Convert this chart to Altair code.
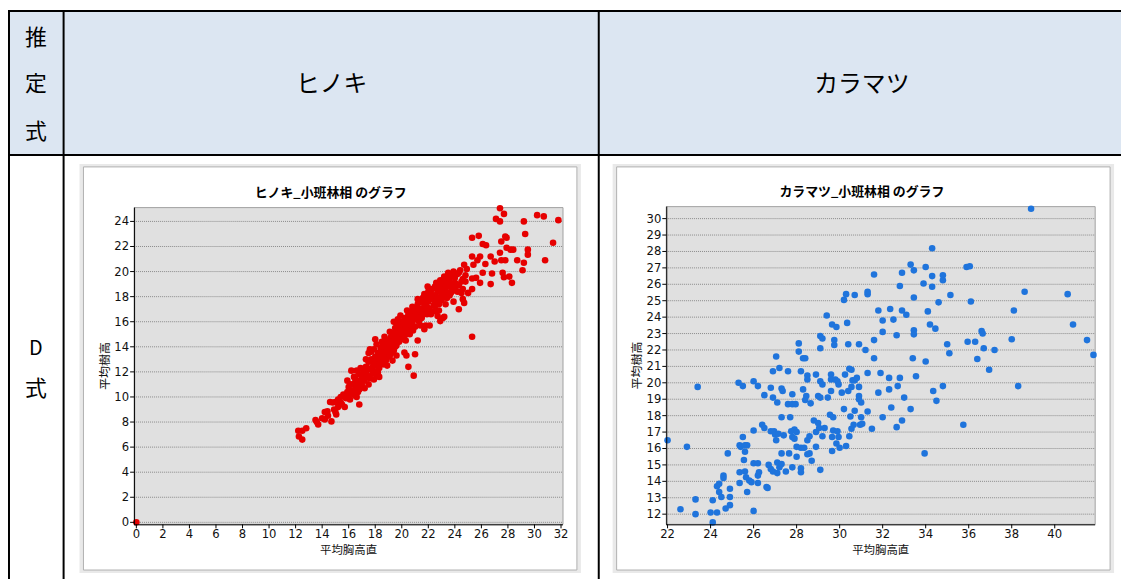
import altair as alt
import pandas as pd

# ---------------- data ----------------
header_species = ["ヒノキ", "カラマツ"]
row_label = ["推", "定", "式"]
body_label = ["D", "式"]
chart_titles = ["ヒノキ_小班林相 のグラフ", "カラマツ_小班林相 のグラフ"]
x_title = "平均胸高直"
y_title = "平均樹高"

hinoki_xticks = [0, 2, 4, 6, 8, 10, 12, 14, 16, 18, 20, 22, 24, 26, 28, 30, 32]
hinoki_yticks = [0, 2, 4, 6, 8, 10, 12, 14, 16, 18, 20, 22, 24]
kara_xticks = [22, 24, 26, 28, 30, 32, 34, 36, 38, 40]
kara_yticks = [12, 13, 14, 15, 16, 17, 18, 19, 20, 21, 22, 23, 24, 25, 26, 27, 28, 29, 30]

hinoki_pts = [
    (0, 0),
    (12.2, 7.3), (12.25, 6.85), (12.5, 6.6), (12.8, 7.5), (12.5, 7.3), (13.5, 8.16), (13.7, 7.8),
    (14.2, 8.2), (14.4, 8.85), (14.7, 8.05), (14.44, 8.5), (14.8, 9.56), (15.06, 8.6), (15.2, 9.2),
    (15.4, 9.56), (15.7, 9.2), (15.8, 10.1), (15.9, 11.3), (16.2, 12.1), (16.8, 9.4), (17.3, 12.35),
    (17.6, 13.8), (17.9, 13.8), (18.5, 13.95), (18.1, 11.8), (17.9, 11.4), (18.2, 11.95), (18.0, 14.6),
    (14.0, 8.3), (14.2, 8.8), (14.6, 9.6), (13.6, 8.0), (14.9, 9.0), (15.0, 8.8),
    (27.4, 25.05), (27.7, 24.6), (27.1, 24.2), (27.4, 24.0), (29.2, 24.0), (30.2, 24.5), (30.7, 24.4),
    (31.8, 24.1), (29.3, 23.0), (31.4, 22.3), (25.3, 22.7), (25.8, 22.85), (26.1, 22.2), (26.35, 22.1),
    (27.5, 22.4), (27.8, 22.8), (27.9, 22.7), (27.4, 21.5), (27.9, 21.9), (28.2, 21.75), (28.4, 21.75),
    (29.5, 21.75), (29.5, 21.35), (29.2, 20.7), (28.7, 20.9), (30.8, 20.9), (27.5, 20.9), (27.8, 20.9),
    (25.9, 21.2), (25.3, 21.2), (25.4, 20.55), (25.7, 20.9), (26.7, 21.2), (27.0, 20.8), (26.3, 20.6),
    (27.6, 19.9), (28.1, 19.6), (27.7, 19.55), (28.3, 19.1), (29.1, 20.1), (26.8, 19.85), (26.7, 19.0),
    (26.1, 19.9), (25.9, 19.1), (25.6, 19.5), (25.3, 19.45), (25.3, 18.6), (25.3, 14.8), (24.7, 20.55),
    (24.3, 19.9), (24.6, 19.4), (24.8, 19.2), (25.0, 18.3), (24.7, 17.5), (24.3, 17.0), (23.9, 17.6),
    (24.0, 19.1), (23.8, 19.8), (23.5, 19.9), (23.2, 19.6), (23.1, 18.7), (23.4, 18.3), (24.0, 18.6),
    (24.2, 18.4), (24.5, 18.3), (23.1, 16.3), (22.9, 16.05), (23.2, 16.4), (22.7, 16.45), (23.6, 19.3),
    (22.6, 19.1), (22.5, 18.8), (21.95, 18.8), (22.1, 18.3), (21.7, 18.2), (21.8, 17.65), (21.6, 17.1),
    (21.3, 16.6), (21.5, 16.3), (21.8, 15.7), (22.1, 15.7), (21.7, 15.4), (22.2, 16.6), (22.5, 17.25),
    (22.6, 16.85), (22.8, 17.4), (22.9, 17.8), (23.1, 18.0), (21.2, 14.5), (21.0, 13.4), (20.9, 11.7),
    (20.5, 12.4), (20.2, 13.55), (20.35, 13.3), (20.85, 15.3), (20.6, 15.0), (20.7, 15.65), (20.2, 14.6),
    (20.2, 16.05), (20.6, 16.3), (20.85, 16.85), (21.1, 16.7),
    (15.0, 9.6), (15.2, 9.8), (15.4, 10.0), (15.5, 9.4), (15.6, 10.2), (15.8, 9.9), (15.9, 10.4),
    (16.0, 10.1), (16.0, 10.8), (16.1, 9.8),
    (16.2, 10.5), (16.3, 11.0), (16.4, 10.2), (16.5, 10.7), (16.5, 11.4), (16.6, 10.0), (16.7, 11.1),
    (16.8, 10.6), (16.8, 11.8), (16.9, 11.3), (17.0, 10.9), (17.0, 11.6), (16.4, 11.6), (16.6, 12.1),
    (17.1, 12.0), (17.2, 11.3), (17.3, 12.4), (17.4, 11.7), (17.5, 12.8), (17.5, 11.0), (17.6, 12.2),
    (17.7, 13.0), (17.8, 11.9), (17.9, 12.6), (18.0, 13.2), (18.0, 12.0), (17.3, 13.0), (17.7, 13.6),
    (17.2, 10.7),
    (18.1, 12.8), (18.2, 13.5), (18.3, 12.3), (18.4, 13.9), (18.5, 13.0), (18.6, 12.6), (18.6, 14.2),
    (18.7, 13.4), (18.8, 12.9), (18.8, 14.6), (18.9, 13.8), (19.0, 13.2), (19.0, 14.4), (18.3, 11.6),
    (18.5, 14.4), (18.9, 12.5),
    (19.1, 14.0), (19.2, 13.5), (19.2, 14.8), (19.3, 14.3), (19.4, 15.1), (19.4, 13.7), (19.5, 14.6),
    (19.5, 15.5), (19.6, 14.1), (19.6, 15.9), (19.7, 14.9), (19.8, 15.3), (19.8, 14.4), (19.9, 15.7),
    (19.9, 14.7), (20.0, 15.1), (20.0, 16.0), (19.3, 12.9), (19.6, 13.3), (19.1, 15.2), (19.7, 16.2),
    (20.1, 15.5), (20.2, 16.3), (20.3, 15.0), (20.4, 16.0), (20.5, 15.6), (20.5, 16.6), (20.6, 15.3),
    (20.7, 16.4), (20.8, 15.9), (20.9, 16.9), (21.0, 16.2), (21.0, 15.6), (20.3, 14.5), (20.8, 17.2),
    (21.0, 17.0),
    (21.1, 16.6), (21.2, 17.4), (21.3, 16.0), (21.4, 17.0), (21.5, 17.6), (21.5, 16.4), (21.6, 17.9),
    (21.7, 16.9), (21.8, 17.3), (21.8, 18.1), (21.9, 16.6), (22.0, 17.6), (22.0, 18.4), (21.4, 15.7),
    (22.1, 17.0), (22.2, 17.8), (22.3, 18.6), (22.4, 17.3), (22.5, 18.1), (22.6, 18.9), (22.6, 17.6),
    (22.7, 18.4), (22.8, 17.9), (22.9, 18.7), (23.0, 18.2), (23.0, 19.1), (22.3, 16.8), (22.8, 16.9),
    (23.2, 18.5), (23.3, 19.3), (23.4, 17.9), (23.5, 18.8), (23.6, 19.6), (23.7, 18.3), (23.8, 19.0),
    (23.9, 20.0), (24.0, 18.5), (24.0, 19.5), (23.3, 17.4),
    (24.2, 19.8), (24.3, 18.9), (24.4, 20.1), (24.5, 19.2), (24.6, 18.6), (24.8, 19.7), (24.9, 20.2),
    (24.6, 17.8),
    (16.1, 11.0), (16.3, 10.4), (16.5, 10.1), (16.7, 10.4), (16.9, 10.8), (17.1, 11.4), (17.3, 11.9),
    (17.4, 12.3), (17.6, 11.5), (17.8, 12.4), (18.0, 12.6), (18.2, 12.4), (18.3, 13.2), (18.4, 12.7),
    (18.5, 13.5), (18.6, 13.1), (18.7, 13.9), (18.8, 13.6), (18.9, 14.2), (19.0, 13.9), (19.1, 13.3),
    (19.2, 14.2), (19.3, 14.7), (19.4, 14.5), (19.5, 14.0), (19.5, 15.0), (19.6, 14.6), (19.7, 15.4),
    (19.8, 15.8), (19.9, 15.2), (20.0, 14.6), (20.1, 15.9), (20.2, 15.3), (20.3, 15.7), (20.4, 15.3),
    (20.5, 16.1), (20.6, 16.7), (20.7, 15.9), (20.8, 16.4), (20.9, 16.2), (21.1, 17.1), (21.2, 16.3),
    (21.3, 17.6), (21.4, 16.8), (21.6, 16.6), (21.7, 17.5), (21.9, 17.9), (22.0, 17.1), (22.2, 18.2),
    (22.4, 18.0), (22.5, 17.6), (22.7, 17.9), (22.8, 18.5), (23.0, 17.7), (23.1, 18.9), (23.3, 18.7),
    (23.5, 19.4), (23.6, 18.1), (23.8, 18.6), (24.1, 19.0), (22.9, 19.3), (23.4, 19.0), (21.2, 17.8),
    (20.4, 16.9), (19.9, 16.5), (19.4, 16.0), (18.7, 14.8), (18.1, 14.2), (17.5, 13.5), (16.9, 12.3),
]

kara_pts = [
    (22.0, 16.5), (22.9, 16.1), (22.6, 12.3), (23.3, 12.9), (23.3, 12.0), (23.4, 19.75), (24.0, 12.1),
    (24.3, 12.1), (24.1, 12.85), (24.1, 11.5), (24.3, 13.7), (24.4, 13.85), (24.4, 13.35), (24.5, 13.05),
    (24.6, 14.35), (24.6, 14.2), (24.7, 12.35), (24.8, 15.7), (24.9, 13.55), (24.9, 13.05), (24.9, 12.55),
    (25.3, 20.0), (25.5, 19.8), (25.35, 14.55), (25.35, 13.9), (25.35, 16.2), (25.4, 16.1), (25.5, 16.7),
    (25.55, 15.3), (25.6, 16.2), (25.6, 15.8), (25.7, 16.2), (25.6, 14.6), (25.65, 14.25), (25.8, 14.05),
    (25.9, 13.95), (25.7, 13.35), (26.0, 20.1), (26.0, 17.1), (26.2, 19.8), (26.0, 15.1), (26.2, 15.1),
    (26.2, 14.35), (26.2, 13.9), (26.25, 14.55), (26.0, 12.2), (26.5, 19.25), (26.4, 17.45), (26.5, 17.25),
    (26.6, 13.65), (26.65, 13.6), (26.8, 17.05), (26.8, 19.7), (26.9, 20.7), (26.9, 19.1), (26.7, 15.0),
    (26.8, 14.75), (26.9, 14.6), (26.95, 17.05), (27.0, 16.85), (27.05, 16.5), (27.05, 21.6), (27.1, 18.8),
    (27.1, 14.5), (27.1, 15.15), (27.15, 16.9), (27.2, 20.9), (27.2, 14.85), (27.3, 15.05), (27.3, 17.9),
    (27.3, 19.65), (27.35, 19.5), (27.3, 15.7), (27.4, 16.8), (27.5, 14.6), (27.6, 20.7), (27.6, 18.7),
    (27.65, 15.7), (27.7, 17.9), (27.75, 17.05), (27.8, 16.7), (27.8, 19.3), (27.8, 18.7), (27.8, 14.85),
    (27.9, 17.15), (27.9, 16.6), (27.95, 18.7), (28.0, 17.0), (28.0, 16.1), (28.0, 15.5), (28.1, 22.4),
    (28.1, 21.9), (28.2, 14.8), (28.2, 20.7), (28.2, 14.55), (28.2, 16.05), (28.3, 21.5), (28.3, 19.6),
    (28.35, 16.05), (28.4, 18.95), (28.4, 21.5), (28.45, 19.2), (28.5, 20.45), (28.5, 20.2), (28.5, 16.5),
    (28.5, 15.65), (28.6, 16.75), (28.6, 15.7), (28.65, 18.75), (28.7, 15.25), (28.8, 17.7), (28.9, 20.5),
    (28.9, 17.0), (28.9, 16.1), (29.0, 17.55), (29.0, 19.2), (29.05, 17.25), (29.1, 22.85), (29.1, 22.1),
    (29.1, 20.1), (29.1, 19.1), (29.1, 14.7), (29.2, 22.7), (29.2, 19.9), (29.2, 16.75), (29.3, 17.25),
    (29.4, 24.1), (29.45, 19.1), (29.55, 18.05), (29.6, 20.5), (29.6, 20.2), (29.6, 19.5), (29.65, 23.55),
    (29.65, 16.7), (29.65, 15.85), (29.7, 17.9), (29.7, 17.1), (29.75, 22.6), (29.75, 22.3), (29.8, 20.2),
    (29.85, 23.4), (29.85, 16.3), (29.9, 20.1), (29.9, 17.05), (29.95, 16.7), (29.95, 19.9), (30.0, 16.05),
    (30.1, 19.4), (30.2, 18.4), (30.2, 25.05), (30.25, 20.5), (30.3, 25.4), (30.3, 16.15), (30.35, 23.65),
    (30.4, 22.35), (30.4, 19.5), (30.45, 20.85), (30.45, 16.75), (30.5, 17.95), (30.55, 17.2), (30.55, 20.8),
    (30.55, 19.75), (30.6, 20.15), (30.65, 17.45), (30.7, 25.35), (30.7, 18.3), (30.7, 20.15), (30.8, 20.3),
    (30.9, 22.35), (30.9, 19.75), (30.9, 19.2), (30.9, 19.0), (30.95, 17.45), (31.0, 18.8), (31.0, 17.9),
    (31.05, 17.5), (31.2, 22.0), (31.3, 25.4), (31.3, 25.55), (31.3, 18.25), (31.3, 20.6), (31.5, 17.2),
    (31.6, 26.6), (31.6, 22.6), (31.6, 21.5), (31.8, 24.4), (31.8, 19.4), (31.9, 20.6), (32.0, 23.8),
    (32.0, 23.1), (32.0, 17.9), (32.3, 20.3), (32.3, 19.6), (32.35, 24.5), (32.4, 18.5), (32.5, 23.85),
    (32.65, 22.9), (32.65, 17.3), (32.7, 19.8), (32.8, 25.9), (32.8, 20.3), (32.9, 26.7), (32.9, 24.4),
    (32.9, 17.7), (33.0, 19.1), (33.1, 24.15), (33.3, 27.2), (33.3, 18.4), (33.4, 21.5), (33.45, 26.85),
    (33.45, 25.2), (33.45, 23.2), (33.45, 22.95), (33.55, 20.4), (33.9, 26.05), (33.95, 15.7), (34.0, 27.05),
    (34.0, 21.3), (34.1, 24.35), (34.2, 23.55), (34.3, 28.2), (34.3, 26.5), (34.3, 25.85), (34.35, 19.5),
    (34.45, 23.3), (34.5, 18.9), (34.6, 24.9), (34.8, 26.55), (34.8, 26.25), (34.8, 19.8), (35.0, 22.35),
    (35.1, 21.8), (35.15, 25.35), (35.75, 17.45), (35.9, 27.05), (35.95, 22.5), (36.05, 27.1), (36.1, 24.95),
    (36.3, 22.5), (36.4, 21.45), (36.6, 23.15), (36.65, 23.0), (36.7, 22.1), (36.95, 20.8), (37.2, 22.0),
    (38.0, 22.65), (38.1, 24.4), (38.3, 19.8), (38.6, 25.55), (38.9, 30.6), (40.6, 25.4), (40.85, 23.55),
    (41.5, 22.6), (41.8, 21.7),
]

# ---------------- helpers ----------------
OFF = 8  # page margin
W, H = 1121, 573
one = pd.DataFrame({"a": [0]})
JP = "Noto Sans CJK JP"
NUM = "Liberation Sans Narrow, DejaVu Sans Condensed, sans-serif"


def P(v):
    return v - OFF


def box(x1, y1, x2, y2, **kw):
    return alt.Chart(one).mark_rect(**kw).encode(
        x=alt.value(P(x1)), x2=alt.value(P(x2)), y=alt.value(P(y1)), y2=alt.value(P(y2))
    )


def rule(x1, y1, x2, y2, **kw):
    return alt.Chart(one).mark_rule(**kw).encode(
        x=alt.value(P(x1)), x2=alt.value(P(x2)), y=alt.value(P(y1)), y2=alt.value(P(y2))
    )


def label(text, x, y, **kw):
    return alt.Chart(one).mark_text(text=text, **kw).encode(x=alt.value(P(x)), y=alt.value(P(y)))


def panel(pts, xticks, yticks, xdom, ydom, area, color):
    x0, y0, x1, y1 = area
    xs = alt.Scale(domain=xdom, range=[P(x0), P(x1)], nice=False, zero=False)
    ys = alt.Scale(domain=ydom, range=[P(y1), P(y0)], nice=False, zero=False)
    df = pd.DataFrame(pts, columns=["d", "h"])
    dy = pd.DataFrame({"t": yticks})
    dx = pd.DataFrame({"t": xticks})
    grid = alt.Chart(dy).mark_rule(color="#8a8a8a", strokeDash=[1, 1], strokeWidth=1).encode(
        y=alt.Y("t:Q", scale=ys, axis=None), x=alt.value(P(x0)), x2=alt.value(P(x1))
    )
    dots = alt.Chart(df).mark_circle(size=44, color=color, opacity=1).encode(
        x=alt.X("d:Q", scale=xs, axis=None), y=alt.Y("h:Q", scale=ys, axis=None)
    )
    yt = alt.Chart(dy).mark_rule(color="#000000", strokeWidth=1).encode(
        y=alt.Y("t:Q", scale=ys, axis=None), x=alt.value(P(x0 - 4)), x2=alt.value(P(x0))
    )
    yl = alt.Chart(dy).mark_text(align="right", baseline="middle", font=NUM, fontSize=13,
                                 color="#111111").encode(
        y=alt.Y("t:Q", scale=ys, axis=None), x=alt.value(P(x0 - 5)), text=alt.Text("t:Q")
    )
    xt = alt.Chart(dx).mark_rule(color="#000000", strokeWidth=1).encode(
        x=alt.X("t:Q", scale=xs, axis=None), y=alt.value(P(y1)), y2=alt.value(P(y1 + 4))
    )
    xl = alt.Chart(dx).mark_text(align="center", baseline="top", font=NUM, fontSize=13,
                                 color="#111111").encode(
        x=alt.X("t:Q", scale=xs, axis=None), y=alt.value(P(y1 + 4)), text=alt.Text("t:Q")
    )
    return alt.layer(grid, dots, yt, yl, xt, xl)


def frame(fx0, fy0, fx1, fy1, area, title, tx, ytx):
    x0, y0, x1, y1 = area
    return [
        box(fx0, fy0, fx1, fy1, color="#e9e9e9"),
        box(fx0 + 4, fy0 + 3, fx1 - 4, fy1 - 3, fill="#ffffff", stroke="#b0b0b0", strokeWidth=1),
        box(x0, y0, x1, y1, fill="#e0e0e0", stroke="#a0a0a0", strokeWidth=1),
        label(title, tx, y0 - 15, font=JP, fontSize=13, fontWeight="bold", color="#000000"),
        label(y_title, ytx, (y0 + y1) / 2, font=JP, fontSize=12, angle=270, color="#111111"),
        label(x_title, (x0 + x1) / 2, y1 + 27, font=JP, fontSize=11.5, color="#111111"),
    ]


def axis_lines(area):
    x0, y0, x1, y1 = area
    return [
        rule(x0 + 0.5, y0, x0 + 0.5, y1 + 0.5, color="#000000", strokeWidth=1),
        rule(x0, y1 + 0.5, x1, y1 + 0.5, color="#000000", strokeWidth=1),
    ]


H_AREA = (135, 207, 567, 526)
K_AREA = (671, 206, 1103, 526)

layers = [
    # table header background and lines
    box(8, 10, 1129, 154, color="#dce6f2"),
    box(8, 8, 1129, 10, color="#000000"),
    box(8, 153, 1129, 155, color="#000000"),
    box(8, 8, 10, 581, color="#000000"),
    box(63, 8, 65, 581, color="#000000"),
    box(602, 8, 604, 581, color="#000000"),
    label(row_label[0], 36, 36, font=JP, fontSize=22, color="#000000"),
    label(row_label[1], 36, 83, font=JP, fontSize=22, color="#000000"),
    label(row_label[2], 36, 131, font=JP, fontSize=22, color="#000000"),
    label(header_species[0], 334, 84, font=JP, fontSize=24, color="#000000"),
    label(header_species[1], 868, 84, font=JP, fontSize=24, color="#000000"),
    label(body_label[0], 36, 349, font=JP, fontSize=20, color="#000000"),
    label(body_label[1], 36, 390, font=JP, fontSize=22, color="#000000"),
]
layers += frame(80, 163, 585, 575, H_AREA, chart_titles[0], 333, 106)
layers += frame(617, 163, 1122, 575, K_AREA, chart_titles[1], 868, 642)

hin = panel(hinoki_pts, hinoki_xticks, hinoki_yticks, [-0.17, 32.15], [-0.16, 25.1], H_AREA, "#e60000")
kar = panel(kara_pts, kara_xticks, kara_yticks, [21.94, 41.88], [11.38, 30.73], K_AREA, "#1f74dc")
layers += [hin, kar]
layers += axis_lines(H_AREA) + axis_lines(K_AREA)

chart = (
    alt.layer(*layers)
    .resolve_scale(x="independent", y="independent")
    .properties(width=W, height=H, padding=0, autosize=alt.AutoSizeParams(type="none"))
    .configure_view(stroke=None)
)

chart.save("out.html", embed_options={"renderer": "svg", "actions": False})
